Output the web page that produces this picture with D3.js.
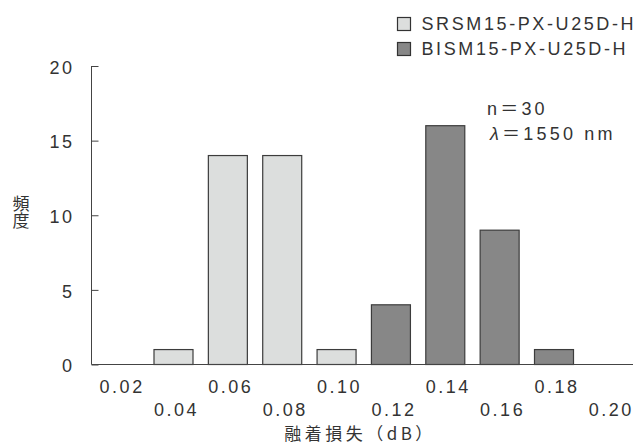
<!DOCTYPE html>
<html>
<head>
<meta charset="utf-8">
<script src="https://cdn.jsdelivr.net/npm/d3@7"></script>
<style>
  body { margin: 0; background: #fff; }
  svg text { font-family: "Liberation Sans", "Noto Sans CJK JP", sans-serif; fill: #333; }
  svg text.jp { font-family: "Noto Sans CJK JP", sans-serif; }
</style>
</head>
<body>
<div id="chart"></div>
<script>
// data
const bins = [0.04, 0.06, 0.08, 0.10, 0.12, 0.14, 0.16, 0.18];
const srsmCounts = [1, 14, 14, 1, 0, 0, 0, 0];
const bismCounts = [0, 0, 0, 0, 4, 16, 9, 1];
const xTicks = [0.02, 0.04, 0.06, 0.08, 0.10, 0.12, 0.14, 0.16, 0.18, 0.20];
const yTicks = [0, 5, 10, 15, 20];
const seriesNames = ['SRSM15-PX-U25D-H', 'BISM15-PX-U25D-H'];
const seriesColors = ['#dcdedd', '#878787'];

const width = 635, height = 445;

let svg = d3.select('#chart').append('svg')
    .attr('width', width)
    .attr('height', height);

let x = d3.scaleLinear()
    .domain([0.04, 0.18])
    .range([173.5, 554]);

let y = d3.scaleLinear()
    .domain([0, 20])
    .range([364.5, 66]);

const barW = 39;

// bars (skip zero counts)
let bars = [];
bins.forEach((b, i) => {
    if (srsmCounts[i] > 0) bars.push({bin: b, v: srsmCounts[i], s: 0});
    if (bismCounts[i] > 0) bars.push({bin: b, v: bismCounts[i], s: 1});
});

svg.append('g')
    .selectAll('rect')
    .data(bars)
    .join('rect')
    .attr('x', d => x(d.bin) - barW / 2)
    .attr('y', d => y(d.v))
    .attr('width', barW)
    .attr('height', d => y(0) - y(d.v))
    .attr('fill', d => seriesColors[d.s])
    .attr('stroke', '#3c3c3c')
    .attr('stroke-width', 1.2);

// y axis, ticks pointing inward
let yAxis = svg.append('g')
    .attr('transform', 'translate(91.5, 0)')
    .call(d3.axisRight(y).tickValues(yTicks).tickSize(7).tickFormat(d3.format('d')));
yAxis.select('.domain').attr('stroke', '#444').attr('d', `M0,${y(20)}V${y(0)}`);
yAxis.selectAll('.tick line').attr('stroke', '#444');
yAxis.selectAll('.tick text')
    .attr('x', -17)
    .attr('text-anchor', 'end')
    .attr('font-size', 18)
    .attr('letter-spacing', 2.5)
    .attr('dy', '0.4em');

// x axis line
svg.append('line')
    .attr('x1', 91.5).attr('x2', 633)
    .attr('y1', y(0)).attr('y2', y(0))
    .attr('stroke', '#444');

// staggered x tick labels
svg.append('g')
    .selectAll('text')
    .data(xTicks)
    .join('text')
    .attr('x', d => x(d) + 3)
    .attr('y', (d, i) => i % 2 === 0 ? 393 : 415.5)
    .attr('text-anchor', 'middle')
    .attr('font-size', 18)
    .attr('letter-spacing', 2.5)
    .text(d => d3.format('.2f')(d));

// axis titles
svg.append('text')
    .attr('class', 'jp')
    .attr('x', 360)
    .attr('y', 440)
    .attr('text-anchor', 'middle')
    .attr('font-size', 17)
    .attr('letter-spacing', 3.5)
    .text('融着損失（dB）');

svg.append('text')
    .attr('class', 'jp')
    .attr('x', 21)
    .attr('y', 212)
    .attr('text-anchor', 'middle')
    .attr('font-size', 17)
    .style('writing-mode', 'vertical-rl')
    .text('頻度');

// legend
let legend = svg.append('g')
    .selectAll('g')
    .data(seriesNames)
    .join('g')
    .attr('transform', (d, i) => `translate(397.5, ${17.5 + i * 25})`);

legend.append('rect')
    .attr('width', 13)
    .attr('height', 13)
    .attr('fill', (d, i) => seriesColors[i])
    .attr('stroke', '#333')
    .attr('stroke-width', 1.2);

legend.append('text')
    .attr('x', 24)
    .attr('y', 12)
    .attr('font-size', 18)
    .attr('letter-spacing', 2.6)
    .text(d => d);

// annotation
svg.append('text')
    .attr('x', 487)
    .attr('y', 115)
    .attr('font-size', 18)
    .attr('letter-spacing', 3.2)
    .text('n＝30');
let lam = svg.append('text')
    .attr('x', 490)
    .attr('y', 140)
    .attr('font-size', 18)
    .attr('letter-spacing', 3.2);
lam.append('tspan').attr('font-style', 'italic').text('λ');
lam.append('tspan').text('＝1550 nm');
</script>
</body>
</html>
